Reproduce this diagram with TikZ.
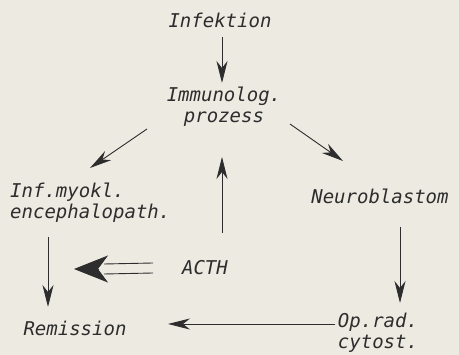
\documentclass[tikz,border=0pt]{standalone}
\usepackage{fontspec}
\setmonofont{DejaVu Sans Mono}
\usetikzlibrary{arrows.meta}
\definecolor{paper}{RGB}{237,234,226}
\definecolor{ink}{RGB}{45,45,45}
\tikzset{
  lbl/.style={inner sep=0pt, text=ink, font=\fontsize{19}{21}\selectfont\ttfamily\slshape},
  arr/.style={draw=ink, line width=0.9pt, -{Stealth[length=22pt,width=11pt,inset=7pt]}},
  bigline/.style={draw=ink, line width=0.9pt},
  bighead/.style={draw=ink, fill=ink, line width=0.9pt, -{Stealth[length=34pt,width=27pt,inset=10pt]}}
}
\begin{document}
\begin{tikzpicture}[x=1pt,y=-1pt]
\fill[paper] (0,0) rectangle (459,355);
\useasboundingbox (0,0) rectangle (459,355);
\node[lbl] (inf) at (220,20) {Infektion};
\node[lbl, align=center] (imm) at (224,107) {Immunolog.\\prozess};
\node[lbl, align=left, anchor=west] (enc) at (10,203) {Inf.myokl.\\encephalopath.};
\node[lbl] (neu) at (380,196) {Neuroblastom};
\node[lbl] (acth) at (205,268) {ACTH};
\node[lbl] (rem) at (75,328) {Remission};
\node[lbl, align=center] (op) at (378,333) {Op.rad.\\cytost.};
% connectors
\draw[arr] ([shift={(2,17)}]inf.center) -- ([shift={(-2,-24)}]imm.center);
\draw[arr] ([shift={(-77,22)}]imm.center) -- ([shift={(80,-35)}]enc.west);
\draw[arr] ([shift={(66,17)}]imm.center) -- ([shift={(-37,-35)}]neu.center);
\draw[arr] ([shift={(20,31)}]neu.center) -- ([shift={(22,-30)}]op.center);
\draw[arr] ([shift={(17,-35)}]acth.center) -- ([shift={(-2,50)}]imm.center);
\draw[arr] ([shift={(38,34)}]enc.west) -- ([shift={(-27,-21)}]rem.center);
\draw[arr] ([shift={(-43,-9)}]op.center) -- ([shift={(93,-4)}]rem.center);
% double arrow from ACTH
\coordinate (tip) at ([shift={(64,66)}]enc.west);
\draw[bigline] ([shift={(-52,-5)}]acth.center) -- ([shift={(30,-5)}]tip);
\draw[bigline] ([shift={(-52,5)}]acth.center) -- ([shift={(30,5)}]tip);
\draw[bighead] ([xshift=24pt]tip) -- (tip);
\end{tikzpicture}
\end{document}
